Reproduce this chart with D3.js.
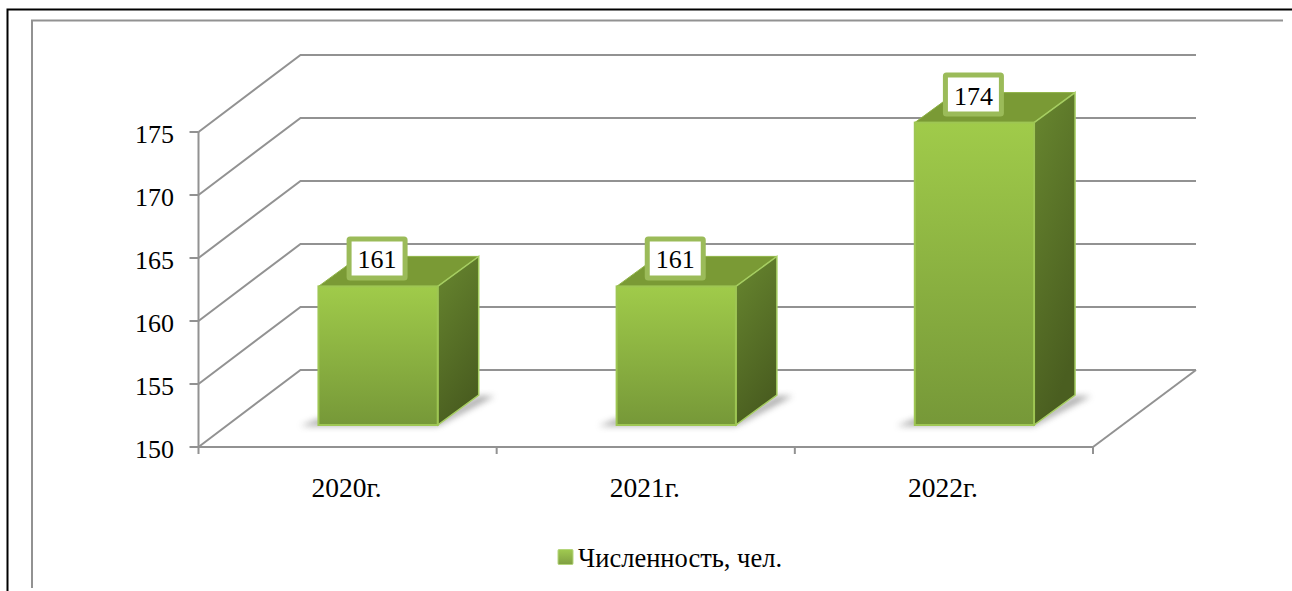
<!DOCTYPE html>
<html>
<head>
<meta charset="utf-8">
<script src="https://d3js.org/d3.v7.min.js"></script>
<style>
html, body { margin: 0; padding: 0; background: #fff; overflow: hidden; }
text { font-family: "Liberation Serif", serif; fill: #000; }
</style>
</head>
<body>
<svg id="chart" width="1292" height="591"></svg>
<script>
// Chart data
const categories = ["2020г.", "2021г.", "2022г."];
const values = [161, 161, 174];
const yTicks = [150, 155, 160, 165, 170, 175];
const seriesName = "Численность, чел.";

const svg = d3.select("#chart");
const GRAY = "#929292";

// front plane of the 3D box and how far the back wall is shifted
const plotLeft = 198.5, plotRight = 1093, plotBottom = 447, plotTop = 132;
const wallDx = 102, wallDy = 77;
// bars stand a bit behind the front plane
const barDx = 30.5, barDy = 22, depthDx = 41, depthDy = 30;

let x = d3.scaleBand().domain(categories).range([plotLeft, plotRight]).paddingInner(0.6).paddingOuter(0.3);
let y = d3.scaleLinear().domain([150, 175]).range([plotBottom, plotTop]);

// gradients and shadow
let defs = svg.append("defs");
let front = defs.append("linearGradient").attr("id", "frontGrad").attr("x1", 0).attr("y1", 0).attr("x2", 0).attr("y2", 1);
front.append("stop").attr("offset", "0%").attr("stop-color", "#a0cb4a");
front.append("stop").attr("offset", "100%").attr("stop-color", "#769838");
let side = defs.append("linearGradient").attr("id", "sideGrad").attr("x1", 0).attr("y1", 0).attr("x2", 0.35).attr("y2", 1);
side.append("stop").attr("offset", "0%").attr("stop-color", "#68872f");
side.append("stop").attr("offset", "100%").attr("stop-color", "#4a5e20");
let legendGrad = defs.append("linearGradient").attr("id", "legendGrad").attr("x1", 0).attr("y1", 0).attr("x2", 0).attr("y2", 1);
legendGrad.append("stop").attr("offset", "0%").attr("stop-color", "#a0ca50");
legendGrad.append("stop").attr("offset", "100%").attr("stop-color", "#7f9f42");
defs.append("filter").attr("id", "blur").attr("x", "-20%").attr("y", "-50%").attr("width", "140%").attr("height", "200%")
    .append("feGaussianBlur").attr("stdDeviation", 3);

// outer frames
svg.append("path").attr("d", "M7.5,591V9.5H1292").attr("fill", "none").attr("stroke", "#000").attr("stroke-width", 2);
svg.append("path").attr("d", "M32,588V20.5H1283").attr("fill", "none").attr("stroke", GRAY).attr("stroke-width", 2);

// wall grid lines
let grid = svg.append("g").attr("fill", "none").attr("stroke", GRAY).attr("stroke-width", 2);
yTicks.forEach(t => {
    grid.append("path").attr("d", `M${plotLeft},${y(t)}L${plotLeft + wallDx},${y(t) - wallDy}H${plotRight + wallDx + 1}`);
});
// floor right edge
grid.append("path").attr("d", `M${plotRight},${plotBottom}L${plotRight + wallDx + 1},${plotBottom - wallDy}`);

// value axis
svg.append("line").attr("x1", plotLeft).attr("x2", plotLeft).attr("y1", y(175)).attr("y2", plotBottom + 7)
    .attr("stroke", GRAY).attr("stroke-width", 2);
svg.selectAll(".ytick").data(yTicks).enter().append("line")
    .attr("x1", plotLeft - 9).attr("x2", plotLeft).attr("y1", d => y(d)).attr("y2", d => y(d))
    .attr("stroke", GRAY).attr("stroke-width", 2);
svg.selectAll(".ylabel").data(yTicks).enter().append("text")
    .attr("x", 174).attr("y", d => y(d) + 11).attr("text-anchor", "end")
    .style("font-size", "26px").text(d => d);

// category axis
svg.append("line").attr("x1", plotLeft).attr("x2", plotRight).attr("y1", plotBottom).attr("y2", plotBottom)
    .attr("stroke", GRAY).attr("stroke-width", 2);
let step = x.step();
d3.range(1, categories.length + 1).forEach(i => {
    svg.append("line").attr("x1", plotLeft + i * step).attr("x2", plotLeft + i * step)
        .attr("y1", plotBottom).attr("y2", plotBottom + 7).attr("stroke", GRAY).attr("stroke-width", 2);
});
svg.selectAll(".xlabel").data(categories).enter().append("text")
    .attr("x", d => x(d) + x.bandwidth() / 2 - 1).attr("y", 497).attr("text-anchor", "middle")
    .style("font-size", "27.5px").text(d => d);

// bars
categories.forEach((c, i) => {
    let x0 = x(c) + barDx, x1 = x0 + x.bandwidth();
    let y0 = y(150) - barDy, y1 = y(values[i]) - barDy;
    let g = svg.append("g");
    // shadow on the floor
    g.append("path")
        .attr("d", `M${x0 - 18},${y0 + 1}H${x1}L${x1 + depthDx + 16},${y0 - depthDy + 1}H${x1 + depthDx}L${x1},${y0 - 6}H${x0}Z`)
        .attr("fill", "#666").attr("opacity", 0.55).attr("filter", "url(#blur)");
    // top
    g.append("path")
        .attr("d", `M${x0},${y1}L${x0 + depthDx},${y1 - depthDy}H${x1 + depthDx}L${x1},${y1}Z`)
        .attr("fill", "#7a9a35").attr("stroke", "#8fb346").attr("stroke-width", 1);
    // side
    g.append("path")
        .attr("d", `M${x1},${y1}L${x1 + depthDx},${y1 - depthDy}V${y0 - depthDy}L${x1},${y0}Z`)
        .attr("fill", "url(#sideGrad)").attr("stroke", "#a6ce62").attr("stroke-width", 1.5);
    // front
    g.append("rect").attr("x", x0).attr("y", y1).attr("width", x1 - x0).attr("height", y0 - y1)
        .attr("fill", "url(#frontGrad)").attr("stroke", "#9ec653").attr("stroke-width", 2);

    // value label
    let cx = (x0 + x1) / 2 - 1, ly = y1 - 28;
    g.append("rect").attr("x", cx - 28).attr("y", ly - 19.5).attr("width", 56).attr("height", 39).attr("rx", 1)
        .attr("fill", "#fff").attr("stroke", "#9bbb59").attr("stroke-width", 5);
    g.append("text").attr("x", cx).attr("y", ly + 10).attr("text-anchor", "middle")
        .style("font-size", "26px").text(values[i]);
});

// legend
svg.append("rect").attr("x", 558).attr("y", 549.5).attr("width", 15).attr("height", 15).attr("rx", 1)
    .attr("fill", "url(#legendGrad)").attr("stroke", "#b5d57c").attr("stroke-width", 1);
svg.append("text").attr("x", 578).attr("y", 567).style("font-size", "26.5px").text(seriesName);
</script>
</body>
</html>
